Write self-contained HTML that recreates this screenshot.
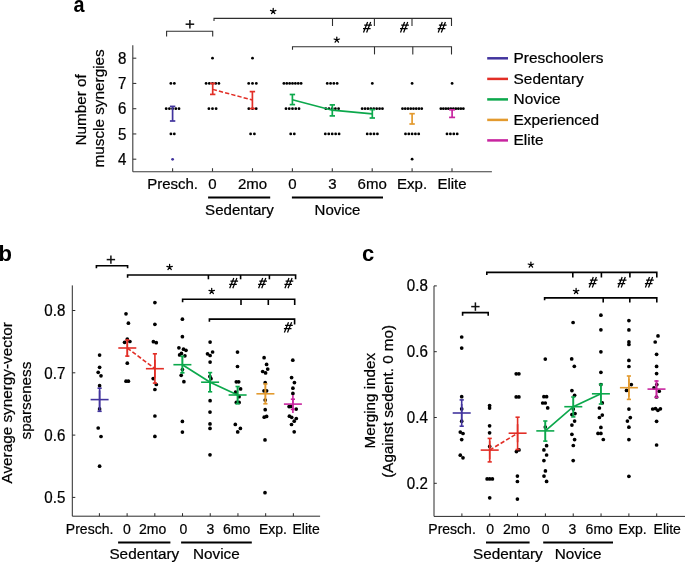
<!DOCTYPE html>
<html><head><meta charset="utf-8"><title>Figure</title>
<style>
html,body{margin:0;padding:0;background:#fff;}
body{width:685px;height:563px;overflow:hidden;}
svg{display:block;will-change:transform;}
text{font-family:"Liberation Sans", sans-serif;stroke:#000;stroke-width:0.22px;}
</style></head>
<body>
<svg width="685" height="563" viewBox="0 0 685 563" font-family='"Liberation Sans", sans-serif'>
<rect width="685" height="563" fill="#fff"/>
<text x="0" y="0" transform="translate(73.4,12.0) scale(0.9,1)" font-size="22" text-anchor="start" font-weight="bold" fill="#000" style="stroke:none">a</text>
<text x="-1.4" y="260.6" font-size="22" text-anchor="start" font-weight="bold" fill="#000" style="stroke:none">b</text>
<text x="362.0" y="260.6" font-size="22" text-anchor="start" font-weight="bold" fill="#000" style="stroke:none">c</text>
<line x1="132.8" y1="45.3" x2="132.8" y2="171.7" stroke="#3a3a3a" stroke-width="1.1" />
<line x1="132.8" y1="171.7" x2="491.9" y2="171.7" stroke="#3a3a3a" stroke-width="1.1" />
<line x1="132.8" y1="58.2" x2="136.3" y2="58.2" stroke="#3a3a3a" stroke-width="1.1" />
<text x="0" y="0" transform="translate(126.3,63.800000000000004) scale(0.97,1)" font-size="15.6" text-anchor="end" font-weight="normal" fill="#000" >8</text>
<line x1="132.8" y1="83.45" x2="136.3" y2="83.45" stroke="#3a3a3a" stroke-width="1.1" />
<text x="0" y="0" transform="translate(126.3,89.05) scale(0.97,1)" font-size="15.6" text-anchor="end" font-weight="normal" fill="#000" >7</text>
<line x1="132.8" y1="108.7" x2="136.3" y2="108.7" stroke="#3a3a3a" stroke-width="1.1" />
<text x="0" y="0" transform="translate(126.3,114.3) scale(0.97,1)" font-size="15.6" text-anchor="end" font-weight="normal" fill="#000" >6</text>
<line x1="132.8" y1="133.95" x2="136.3" y2="133.95" stroke="#3a3a3a" stroke-width="1.1" />
<text x="0" y="0" transform="translate(126.3,139.54999999999998) scale(0.97,1)" font-size="15.6" text-anchor="end" font-weight="normal" fill="#000" >5</text>
<line x1="132.8" y1="159.2" x2="136.3" y2="159.2" stroke="#3a3a3a" stroke-width="1.1" />
<text x="0" y="0" transform="translate(126.3,164.79999999999998) scale(0.97,1)" font-size="15.6" text-anchor="end" font-weight="normal" fill="#000" >4</text>
<line x1="172.6" y1="171.7" x2="172.6" y2="168.2" stroke="#3a3a3a" stroke-width="1.1" />
<line x1="212.5" y1="171.7" x2="212.5" y2="168.2" stroke="#3a3a3a" stroke-width="1.1" />
<line x1="252.5" y1="171.7" x2="252.5" y2="168.2" stroke="#3a3a3a" stroke-width="1.1" />
<line x1="292.4" y1="171.7" x2="292.4" y2="168.2" stroke="#3a3a3a" stroke-width="1.1" />
<line x1="332.3" y1="171.7" x2="332.3" y2="168.2" stroke="#3a3a3a" stroke-width="1.1" />
<line x1="372.2" y1="171.7" x2="372.2" y2="168.2" stroke="#3a3a3a" stroke-width="1.1" />
<line x1="412.1" y1="171.7" x2="412.1" y2="168.2" stroke="#3a3a3a" stroke-width="1.1" />
<line x1="452.0" y1="171.7" x2="452.0" y2="168.2" stroke="#3a3a3a" stroke-width="1.1" />
<text x="172.6" y="189.4" font-size="15" text-anchor="middle" font-weight="normal" fill="#000" >Presch.</text>
<text x="212.5" y="189.4" font-size="15" text-anchor="middle" font-weight="normal" fill="#000" >0</text>
<text x="252.5" y="189.4" font-size="15" text-anchor="middle" font-weight="normal" fill="#000" >2mo</text>
<text x="292.4" y="189.4" font-size="15" text-anchor="middle" font-weight="normal" fill="#000" >0</text>
<text x="332.3" y="189.4" font-size="15" text-anchor="middle" font-weight="normal" fill="#000" >3</text>
<text x="372.2" y="189.4" font-size="15" text-anchor="middle" font-weight="normal" fill="#000" >6mo</text>
<text x="412.1" y="189.4" font-size="15" text-anchor="middle" font-weight="normal" fill="#000" >Exp.</text>
<text x="452.0" y="189.4" font-size="15" text-anchor="middle" font-weight="normal" fill="#000" >Elite</text>
<line x1="208.1" y1="197.6" x2="270.2" y2="197.6" stroke="#000" stroke-width="2" />
<line x1="291.9" y1="197.6" x2="383.0" y2="197.6" stroke="#000" stroke-width="2" />
<text x="239.5" y="214.5" font-size="15.1" text-anchor="middle" font-weight="normal" fill="#000" >Sedentary</text>
<text x="337.5" y="214.5" font-size="15" text-anchor="middle" font-weight="normal" fill="#000" >Novice</text>
<text x="0" y="0" font-size="15.3" text-anchor="middle" font-weight="normal" fill="#000" transform="translate(85.6,109.9) rotate(-90)">Number of</text>
<text x="0" y="0" font-size="15.3" text-anchor="middle" font-weight="normal" fill="#000" transform="translate(104.2,108.4) rotate(-90)">muscle synergies</text>
<line x1="487.2" y1="58.3" x2="508.0" y2="58.3" stroke="#42349e" stroke-width="2.5" />
<text x="513.6" y="62.9" font-size="15.4" text-anchor="start" font-weight="normal" fill="#000" >Preschoolers</text>
<line x1="487.2" y1="78.9" x2="508.0" y2="78.9" stroke="#e22e26" stroke-width="2.5" />
<text x="513.6" y="83.5" font-size="15.4" text-anchor="start" font-weight="normal" fill="#000" >Sedentary</text>
<line x1="487.2" y1="99.4" x2="508.0" y2="99.4" stroke="#0ca84c" stroke-width="2.5" />
<text x="513.6" y="104.0" font-size="15.4" text-anchor="start" font-weight="normal" fill="#000" >Novice</text>
<line x1="487.2" y1="119.9" x2="508.0" y2="119.9" stroke="#e39a2e" stroke-width="2.5" />
<text x="513.6" y="124.5" font-size="15.4" text-anchor="start" font-weight="normal" fill="#000" >Experienced</text>
<line x1="487.2" y1="140.4" x2="508.0" y2="140.4" stroke="#c8249f" stroke-width="2.5" />
<text x="513.6" y="145.0" font-size="15.4" text-anchor="start" font-weight="normal" fill="#000" >Elite</text>
<polyline points="166.6,36.5 166.6,31.3 212.7,31.3 212.7,36.5" fill="none" stroke="#2e2e2e" stroke-width="1.1" />
<line x1="185.6" y1="24.2" x2="194.20000000000002" y2="24.2" stroke="#111" stroke-width="1.5" />
<line x1="189.9" y1="19.9" x2="189.9" y2="28.5" stroke="#111" stroke-width="1.5" />
<polyline points="214.0,21.0 214.0,18.4 451.5,18.4 451.5,26.0" fill="none" stroke="#2e2e2e" stroke-width="1.1" />
<line x1="332.5" y1="18.4" x2="332.5" y2="26.0" stroke="#2e2e2e" stroke-width="1.1" />
<line x1="374.4" y1="18.4" x2="374.4" y2="26.0" stroke="#2e2e2e" stroke-width="1.1" />
<line x1="412.0" y1="18.4" x2="412.0" y2="26.0" stroke="#2e2e2e" stroke-width="1.1" />
<path d="M273.20,11.30L273.20,8.45M273.20,11.30L275.91,10.42M273.20,11.30L274.88,13.61M273.20,11.30L271.52,13.61M273.20,11.30L270.49,10.42" stroke="#000" stroke-width="1.25" stroke-linecap="round" fill="none"/>
<path d="M367.60,22.10L363.50,32.40M370.70,22.10L366.60,32.40M364.20,25.20L371.90,25.20M363.00,28.60L370.60,28.60" stroke="#000" stroke-width="1.25" fill="none"/>
<path d="M404.60,22.10L400.50,32.40M407.70,22.10L403.60,32.40M401.20,25.20L408.90,25.20M400.00,28.60L407.60,28.60" stroke="#000" stroke-width="1.25" fill="none"/>
<path d="M442.30,22.10L438.20,32.40M445.40,22.10L441.30,32.40M438.90,25.20L446.60,25.20M437.70,28.60L445.30,28.60" stroke="#000" stroke-width="1.25" fill="none"/>
<polyline points="292.5,49.8 292.5,46.8 451.5,46.8 451.5,54.4" fill="none" stroke="#2e2e2e" stroke-width="1.1" />
<line x1="374.5" y1="46.8" x2="374.5" y2="54.4" stroke="#2e2e2e" stroke-width="1.1" />
<line x1="412.8" y1="46.8" x2="412.8" y2="54.4" stroke="#2e2e2e" stroke-width="1.1" />
<path d="M336.80,39.90L336.80,37.05M336.80,39.90L339.51,39.02M336.80,39.90L338.48,42.21M336.80,39.90L335.12,42.21M336.80,39.90L334.09,39.02" stroke="#000" stroke-width="1.25" stroke-linecap="round" fill="none"/>
<circle cx="170.85" cy="83.45" r="1.4" fill="#000"/>
<circle cx="174.35" cy="83.45" r="1.4" fill="#000"/>
<circle cx="166.2" cy="108.7" r="1.4" fill="#000"/>
<circle cx="169.4" cy="108.7" r="1.4" fill="#000"/>
<circle cx="172.6" cy="108.7" r="1.4" fill="#000"/>
<circle cx="175.8" cy="108.7" r="1.4" fill="#000"/>
<circle cx="179.0" cy="108.7" r="1.4" fill="#000"/>
<circle cx="170.9" cy="133.95" r="1.4" fill="#000"/>
<circle cx="174.3" cy="133.95" r="1.4" fill="#000"/>
<circle cx="212.5" cy="58.2" r="1.4" fill="#000"/>
<circle cx="206.1" cy="83.45" r="1.4" fill="#000"/>
<circle cx="209.3" cy="83.45" r="1.4" fill="#000"/>
<circle cx="212.5" cy="83.45" r="1.4" fill="#000"/>
<circle cx="215.7" cy="83.45" r="1.4" fill="#000"/>
<circle cx="218.9" cy="83.45" r="1.4" fill="#000"/>
<circle cx="208.9" cy="108.7" r="1.4" fill="#000"/>
<circle cx="212.5" cy="108.7" r="1.4" fill="#000"/>
<circle cx="216.1" cy="108.7" r="1.4" fill="#000"/>
<circle cx="252.5" cy="58.2" r="1.4" fill="#000"/>
<circle cx="248.7" cy="83.45" r="1.4" fill="#000"/>
<circle cx="252.5" cy="83.45" r="1.4" fill="#000"/>
<circle cx="256.3" cy="83.45" r="1.4" fill="#000"/>
<circle cx="248.8" cy="108.7" r="1.4" fill="#000"/>
<circle cx="252.5" cy="108.7" r="1.4" fill="#000"/>
<circle cx="256.2" cy="108.7" r="1.4" fill="#000"/>
<circle cx="250.6" cy="133.95" r="1.4" fill="#000"/>
<circle cx="254.4" cy="133.95" r="1.4" fill="#000"/>
<circle cx="283.89" cy="83.45" r="1.4" fill="#000"/>
<circle cx="286.76" cy="83.45" r="1.4" fill="#000"/>
<circle cx="289.63" cy="83.45" r="1.4" fill="#000"/>
<circle cx="292.5" cy="83.45" r="1.4" fill="#000"/>
<circle cx="295.37" cy="83.45" r="1.4" fill="#000"/>
<circle cx="298.24" cy="83.45" r="1.4" fill="#000"/>
<circle cx="301.11" cy="83.45" r="1.4" fill="#000"/>
<circle cx="286.0" cy="108.7" r="1.4" fill="#000"/>
<circle cx="289.25" cy="108.7" r="1.4" fill="#000"/>
<circle cx="292.5" cy="108.7" r="1.4" fill="#000"/>
<circle cx="295.75" cy="108.7" r="1.4" fill="#000"/>
<circle cx="299.0" cy="108.7" r="1.4" fill="#000"/>
<circle cx="290.7" cy="133.95" r="1.4" fill="#000"/>
<circle cx="294.3" cy="133.95" r="1.4" fill="#000"/>
<circle cx="327.25" cy="83.45" r="1.4" fill="#000"/>
<circle cx="330.55" cy="83.45" r="1.4" fill="#000"/>
<circle cx="333.85" cy="83.45" r="1.4" fill="#000"/>
<circle cx="337.15" cy="83.45" r="1.4" fill="#000"/>
<circle cx="325.8" cy="108.7" r="1.4" fill="#000"/>
<circle cx="329.0" cy="108.7" r="1.4" fill="#000"/>
<circle cx="332.2" cy="108.7" r="1.4" fill="#000"/>
<circle cx="335.4" cy="108.7" r="1.4" fill="#000"/>
<circle cx="338.6" cy="108.7" r="1.4" fill="#000"/>
<circle cx="325.3" cy="133.95" r="1.4" fill="#000"/>
<circle cx="328.75" cy="133.95" r="1.4" fill="#000"/>
<circle cx="332.2" cy="133.95" r="1.4" fill="#000"/>
<circle cx="335.65" cy="133.95" r="1.4" fill="#000"/>
<circle cx="339.1" cy="133.95" r="1.4" fill="#000"/>
<circle cx="372.3" cy="83.45" r="1.4" fill="#000"/>
<circle cx="362.15" cy="108.7" r="1.4" fill="#000"/>
<circle cx="365.05" cy="108.7" r="1.4" fill="#000"/>
<circle cx="367.95" cy="108.7" r="1.4" fill="#000"/>
<circle cx="370.85" cy="108.7" r="1.4" fill="#000"/>
<circle cx="373.75" cy="108.7" r="1.4" fill="#000"/>
<circle cx="376.65" cy="108.7" r="1.4" fill="#000"/>
<circle cx="379.55" cy="108.7" r="1.4" fill="#000"/>
<circle cx="382.45" cy="108.7" r="1.4" fill="#000"/>
<circle cx="367.2" cy="133.95" r="1.4" fill="#000"/>
<circle cx="370.6" cy="133.95" r="1.4" fill="#000"/>
<circle cx="374.0" cy="133.95" r="1.4" fill="#000"/>
<circle cx="377.4" cy="133.95" r="1.4" fill="#000"/>
<circle cx="412.1" cy="83.45" r="1.4" fill="#000"/>
<circle cx="402.48" cy="108.7" r="1.4" fill="#000"/>
<circle cx="405.23" cy="108.7" r="1.4" fill="#000"/>
<circle cx="407.98" cy="108.7" r="1.4" fill="#000"/>
<circle cx="410.73" cy="108.7" r="1.4" fill="#000"/>
<circle cx="413.48" cy="108.7" r="1.4" fill="#000"/>
<circle cx="416.23" cy="108.7" r="1.4" fill="#000"/>
<circle cx="418.98" cy="108.7" r="1.4" fill="#000"/>
<circle cx="421.73" cy="108.7" r="1.4" fill="#000"/>
<circle cx="405.5" cy="133.95" r="1.4" fill="#000"/>
<circle cx="408.8" cy="133.95" r="1.4" fill="#000"/>
<circle cx="412.1" cy="133.95" r="1.4" fill="#000"/>
<circle cx="415.4" cy="133.95" r="1.4" fill="#000"/>
<circle cx="418.7" cy="133.95" r="1.4" fill="#000"/>
<circle cx="412.1" cy="159.2" r="1.4" fill="#000"/>
<circle cx="452.1" cy="83.45" r="1.4" fill="#000"/>
<circle cx="440.85" cy="108.7" r="1.4" fill="#000"/>
<circle cx="443.35" cy="108.7" r="1.4" fill="#000"/>
<circle cx="445.85" cy="108.7" r="1.4" fill="#000"/>
<circle cx="448.35" cy="108.7" r="1.4" fill="#000"/>
<circle cx="450.85" cy="108.7" r="1.4" fill="#000"/>
<circle cx="453.35" cy="108.7" r="1.4" fill="#000"/>
<circle cx="455.85" cy="108.7" r="1.4" fill="#000"/>
<circle cx="458.35" cy="108.7" r="1.4" fill="#000"/>
<circle cx="460.85" cy="108.7" r="1.4" fill="#000"/>
<circle cx="463.35" cy="108.7" r="1.4" fill="#000"/>
<circle cx="447.0" cy="133.95" r="1.4" fill="#000"/>
<circle cx="450.4" cy="133.95" r="1.4" fill="#000"/>
<circle cx="453.8" cy="133.95" r="1.4" fill="#000"/>
<circle cx="457.2" cy="133.95" r="1.4" fill="#000"/>
<circle cx="172.6" cy="159.3" r="1.4" fill="#42349e"/>
<line x1="172.6" y1="106.4" x2="172.6" y2="121.0" stroke="#42349e" stroke-width="1.7" />
<line x1="169.9" y1="106.4" x2="175.29999999999998" y2="106.4" stroke="#42349e" stroke-width="1.7" />
<line x1="169.9" y1="121.0" x2="175.29999999999998" y2="121.0" stroke="#42349e" stroke-width="1.7" />
<line x1="212.7" y1="83.4" x2="212.7" y2="94.4" stroke="#e22e26" stroke-width="1.7" />
<line x1="210.0" y1="83.4" x2="215.39999999999998" y2="83.4" stroke="#e22e26" stroke-width="1.7" />
<line x1="210.0" y1="94.4" x2="215.39999999999998" y2="94.4" stroke="#e22e26" stroke-width="1.7" />
<line x1="252.4" y1="91.6" x2="252.4" y2="108.6" stroke="#e22e26" stroke-width="1.7" />
<line x1="249.70000000000002" y1="91.6" x2="255.1" y2="91.6" stroke="#e22e26" stroke-width="1.7" />
<line x1="249.70000000000002" y1="108.6" x2="255.1" y2="108.6" stroke="#e22e26" stroke-width="1.7" />
<line x1="212.7" y1="89.4" x2="252.4" y2="100.0" stroke="#e22e26" stroke-width="1.5" stroke-dasharray="4.3 2.1"/>
<line x1="292.4" y1="94.5" x2="292.4" y2="104.6" stroke="#0ca84c" stroke-width="1.7" />
<line x1="289.7" y1="94.5" x2="295.09999999999997" y2="94.5" stroke="#0ca84c" stroke-width="1.7" />
<line x1="289.7" y1="104.6" x2="295.09999999999997" y2="104.6" stroke="#0ca84c" stroke-width="1.7" />
<line x1="332.3" y1="104.9" x2="332.3" y2="115.9" stroke="#0ca84c" stroke-width="1.7" />
<line x1="329.6" y1="104.9" x2="335.0" y2="104.9" stroke="#0ca84c" stroke-width="1.7" />
<line x1="329.6" y1="115.9" x2="335.0" y2="115.9" stroke="#0ca84c" stroke-width="1.7" />
<line x1="372.3" y1="109.6" x2="372.3" y2="118.0" stroke="#0ca84c" stroke-width="1.7" />
<line x1="369.6" y1="109.6" x2="375.0" y2="109.6" stroke="#0ca84c" stroke-width="1.7" />
<line x1="369.6" y1="118.0" x2="375.0" y2="118.0" stroke="#0ca84c" stroke-width="1.7" />
<polyline points="292.4,99.8 332.3,110.2 372.3,113.9" fill="none" stroke="#0ca84c" stroke-width="1.7" />
<line x1="412.1" y1="113.7" x2="412.1" y2="124.0" stroke="#e39a2e" stroke-width="1.7" />
<line x1="409.40000000000003" y1="113.7" x2="414.8" y2="113.7" stroke="#e39a2e" stroke-width="1.7" />
<line x1="409.40000000000003" y1="124.0" x2="414.8" y2="124.0" stroke="#e39a2e" stroke-width="1.7" />
<line x1="452.1" y1="109.8" x2="452.1" y2="117.4" stroke="#c8249f" stroke-width="1.7" />
<line x1="449.1" y1="109.8" x2="455.1" y2="109.8" stroke="#c8249f" stroke-width="1.7" />
<line x1="449.1" y1="117.4" x2="455.1" y2="117.4" stroke="#c8249f" stroke-width="1.7" />
<line x1="72.3" y1="285.4" x2="72.3" y2="516.2" stroke="#2a2a2a" stroke-width="1.0" />
<line x1="72.3" y1="516.2" x2="320.1" y2="516.2" stroke="#2a2a2a" stroke-width="1.0" />
<line x1="72.3" y1="310.5" x2="75.3" y2="310.5" stroke="#2a2a2a" stroke-width="1.0" />
<text x="0" y="0" transform="translate(65.4,316.3) scale(0.97,1)" font-size="15.6" text-anchor="end" font-weight="normal" fill="#000" >0.8</text>
<line x1="72.3" y1="372.8" x2="75.3" y2="372.8" stroke="#2a2a2a" stroke-width="1.0" />
<text x="0" y="0" transform="translate(65.4,378.6) scale(0.97,1)" font-size="15.6" text-anchor="end" font-weight="normal" fill="#000" >0.7</text>
<line x1="72.3" y1="435.1" x2="75.3" y2="435.1" stroke="#2a2a2a" stroke-width="1.0" />
<text x="0" y="0" transform="translate(65.4,440.90000000000003) scale(0.97,1)" font-size="15.6" text-anchor="end" font-weight="normal" fill="#000" >0.6</text>
<line x1="72.3" y1="497.4" x2="75.3" y2="497.4" stroke="#2a2a2a" stroke-width="1.0" />
<text x="0" y="0" transform="translate(65.4,503.2) scale(0.97,1)" font-size="15.6" text-anchor="end" font-weight="normal" fill="#000" >0.5</text>
<line x1="99.4" y1="516.2" x2="99.4" y2="513.2" stroke="#2a2a2a" stroke-width="1.0" />
<line x1="127.11000000000001" y1="516.2" x2="127.11000000000001" y2="513.2" stroke="#2a2a2a" stroke-width="1.0" />
<line x1="154.82" y1="516.2" x2="154.82" y2="513.2" stroke="#2a2a2a" stroke-width="1.0" />
<line x1="182.53" y1="516.2" x2="182.53" y2="513.2" stroke="#2a2a2a" stroke-width="1.0" />
<line x1="210.24" y1="516.2" x2="210.24" y2="513.2" stroke="#2a2a2a" stroke-width="1.0" />
<line x1="237.95000000000002" y1="516.2" x2="237.95000000000002" y2="513.2" stroke="#2a2a2a" stroke-width="1.0" />
<line x1="265.65999999999997" y1="516.2" x2="265.65999999999997" y2="513.2" stroke="#2a2a2a" stroke-width="1.0" />
<line x1="293.37" y1="516.2" x2="293.37" y2="513.2" stroke="#2a2a2a" stroke-width="1.0" />
<text x="0" y="0" transform="translate(89.6,534.2) scale(0.935,1)" font-size="15" text-anchor="middle" font-weight="normal" fill="#000" >Presch.</text>
<text x="0" y="0" transform="translate(126.9,534.2) scale(0.935,1)" font-size="15" text-anchor="middle" font-weight="normal" fill="#000" >0</text>
<text x="0" y="0" transform="translate(152.7,534.2) scale(0.935,1)" font-size="15" text-anchor="middle" font-weight="normal" fill="#000" >2mo</text>
<text x="0" y="0" transform="translate(183.4,534.2) scale(0.935,1)" font-size="15" text-anchor="middle" font-weight="normal" fill="#000" >0</text>
<text x="0" y="0" transform="translate(210.3,534.2) scale(0.935,1)" font-size="15" text-anchor="middle" font-weight="normal" fill="#000" >3</text>
<text x="0" y="0" transform="translate(236.6,534.2) scale(0.935,1)" font-size="15" text-anchor="middle" font-weight="normal" fill="#000" >6mo</text>
<text x="0" y="0" transform="translate(272.9,534.2) scale(0.935,1)" font-size="15" text-anchor="middle" font-weight="normal" fill="#000" >Exp.</text>
<text x="0" y="0" transform="translate(306.1,534.2) scale(0.935,1)" font-size="15" text-anchor="middle" font-weight="normal" fill="#000" >Elite</text>
<line x1="118.1" y1="542.5" x2="170.4" y2="542.5" stroke="#000" stroke-width="2" />
<line x1="181.1" y1="542.5" x2="251.8" y2="542.5" stroke="#000" stroke-width="2" />
<text x="144.3" y="558.7" font-size="15.3" text-anchor="middle" font-weight="normal" fill="#000" >Sedentary</text>
<text x="216.4" y="558.7" font-size="15.3" text-anchor="middle" font-weight="normal" fill="#000" >Novice</text>
<text x="0" y="0" font-size="15.3" text-anchor="middle" font-weight="normal" fill="#000" transform="translate(11.6,402.9) rotate(-90)">Average synergy-vector</text>
<text x="0" y="0" font-size="15.2" text-anchor="middle" font-weight="normal" fill="#000" transform="translate(30.8,400.6) rotate(-90)">sparseness</text>
<polyline points="96.4,268.3 96.4,265.7 127.6,265.7 127.6,268.3" fill="none" stroke="#000" stroke-width="1.6" />
<line x1="106.7" y1="259.6" x2="115.10000000000001" y2="259.6" stroke="#111" stroke-width="1.5" />
<line x1="110.9" y1="255.40000000000003" x2="110.9" y2="263.8" stroke="#111" stroke-width="1.5" />
<polyline points="127.6,277.8 127.6,275.0 295.6,275.0 295.6,279.3" fill="none" stroke="#000" stroke-width="1.6" />
<line x1="208.4" y1="275.0" x2="208.4" y2="279.3" stroke="#000" stroke-width="1.6" />
<line x1="240.6" y1="275.0" x2="240.6" y2="279.3" stroke="#000" stroke-width="1.6" />
<line x1="269.4" y1="275.0" x2="269.4" y2="279.3" stroke="#000" stroke-width="1.6" />
<path d="M169.60,267.20L169.60,264.35M169.60,267.20L172.31,266.32M169.60,267.20L171.28,269.51M169.60,267.20L167.92,269.51M169.60,267.20L166.89,266.32" stroke="#000" stroke-width="1.25" stroke-linecap="round" fill="none"/>
<path d="M233.80,277.90L229.70,288.20M236.90,277.90L232.80,288.20M230.40,281.00L238.10,281.00M229.20,284.40L236.80,284.40" stroke="#000" stroke-width="1.25" fill="none"/>
<path d="M262.70,277.90L258.60,288.20M265.80,277.90L261.70,288.20M259.30,281.00L267.00,281.00M258.10,284.40L265.70,284.40" stroke="#000" stroke-width="1.25" fill="none"/>
<path d="M289.00,277.90L284.90,288.20M292.10,277.90L288.00,288.20M285.60,281.00L293.30,281.00M284.40,284.40L292.00,284.40" stroke="#000" stroke-width="1.25" fill="none"/>
<polyline points="182.6,302.3 182.6,299.3 294.7,299.3 294.7,305.0" fill="none" stroke="#000" stroke-width="1.6" />
<line x1="241.0" y1="299.3" x2="241.0" y2="305.0" stroke="#000" stroke-width="1.6" />
<line x1="268.3" y1="299.3" x2="268.3" y2="305.0" stroke="#000" stroke-width="1.6" />
<path d="M211.70,291.20L211.70,288.35M211.70,291.20L214.41,290.32M211.70,291.20L213.38,293.51M211.70,291.20L210.02,293.51M211.70,291.20L208.99,290.32" stroke="#000" stroke-width="1.25" stroke-linecap="round" fill="none"/>
<polyline points="209.4,321.8 209.4,319.1 294.6,319.1 294.6,324.4" fill="none" stroke="#000" stroke-width="1.6" />
<path d="M288.50,322.20L284.40,332.50M291.60,322.20L287.50,332.50M285.10,325.30L292.80,325.30M283.90,328.70L291.50,328.70" stroke="#000" stroke-width="1.25" fill="none"/>
<circle cx="99.6" cy="355.1" r="1.85" fill="#000"/>
<circle cx="99.6" cy="367.3" r="1.85" fill="#000"/>
<circle cx="98.2" cy="372.3" r="1.85" fill="#000"/>
<circle cx="101" cy="375.8" r="1.85" fill="#000"/>
<circle cx="99.6" cy="385.7" r="1.85" fill="#000"/>
<circle cx="99.6" cy="408.9" r="1.85" fill="#000"/>
<circle cx="98.2" cy="428" r="1.85" fill="#000"/>
<circle cx="101" cy="436.5" r="1.85" fill="#000"/>
<circle cx="99.6" cy="466.2" r="1.85" fill="#000"/>
<circle cx="126" cy="313.8" r="1.85" fill="#000"/>
<circle cx="128.4" cy="323.2" r="1.85" fill="#000"/>
<circle cx="127.3" cy="339.1" r="1.85" fill="#000"/>
<circle cx="124.6" cy="342.3" r="1.85" fill="#000"/>
<circle cx="129.9" cy="341.5" r="1.85" fill="#000"/>
<circle cx="127.3" cy="363.2" r="1.85" fill="#000"/>
<circle cx="126" cy="381.2" r="1.85" fill="#000"/>
<circle cx="128.4" cy="381.2" r="1.85" fill="#000"/>
<circle cx="154.9" cy="302.6" r="1.85" fill="#000"/>
<circle cx="154.9" cy="324.3" r="1.85" fill="#000"/>
<circle cx="153.4" cy="341.7" r="1.85" fill="#000"/>
<circle cx="156.3" cy="342.7" r="1.85" fill="#000"/>
<circle cx="153.2" cy="378.6" r="1.85" fill="#000"/>
<circle cx="156.3" cy="384.5" r="1.85" fill="#000"/>
<circle cx="154.9" cy="389.5" r="1.85" fill="#000"/>
<circle cx="154.9" cy="416" r="1.85" fill="#000"/>
<circle cx="154.9" cy="436.4" r="1.85" fill="#000"/>
<circle cx="182.4" cy="319.2" r="1.85" fill="#000"/>
<circle cx="182.4" cy="336.7" r="1.85" fill="#000"/>
<circle cx="178.9" cy="347.8" r="1.85" fill="#000"/>
<circle cx="183.5" cy="349.2" r="1.85" fill="#000"/>
<circle cx="186" cy="350.3" r="1.85" fill="#000"/>
<circle cx="181.4" cy="353.4" r="1.85" fill="#000"/>
<circle cx="179.6" cy="354.9" r="1.85" fill="#000"/>
<circle cx="184.9" cy="355.8" r="1.85" fill="#000"/>
<circle cx="182.4" cy="369.5" r="1.85" fill="#000"/>
<circle cx="181.2" cy="375.3" r="1.85" fill="#000"/>
<circle cx="183.9" cy="381.7" r="1.85" fill="#000"/>
<circle cx="182.4" cy="421.4" r="1.85" fill="#000"/>
<circle cx="182.4" cy="432.1" r="1.85" fill="#000"/>
<circle cx="210.1" cy="342.1" r="1.85" fill="#000"/>
<circle cx="212.6" cy="352" r="1.85" fill="#000"/>
<circle cx="207.5" cy="353.8" r="1.85" fill="#000"/>
<circle cx="210.1" cy="355.5" r="1.85" fill="#000"/>
<circle cx="210.1" cy="362.1" r="1.85" fill="#000"/>
<circle cx="209.9" cy="376.4" r="1.85" fill="#000"/>
<circle cx="211" cy="378.7" r="1.85" fill="#000"/>
<circle cx="210.1" cy="400.7" r="1.85" fill="#000"/>
<circle cx="210" cy="412.1" r="1.85" fill="#000"/>
<circle cx="210" cy="423.9" r="1.85" fill="#000"/>
<circle cx="210" cy="428.4" r="1.85" fill="#000"/>
<circle cx="210" cy="454.8" r="1.85" fill="#000"/>
<circle cx="237.5" cy="352.1" r="1.85" fill="#000"/>
<circle cx="237.5" cy="366.5" r="1.85" fill="#000"/>
<circle cx="236.3" cy="381.8" r="1.85" fill="#000"/>
<circle cx="238.7" cy="381.8" r="1.85" fill="#000"/>
<circle cx="240.6" cy="388.9" r="1.85" fill="#000"/>
<circle cx="235.6" cy="392.2" r="1.85" fill="#000"/>
<circle cx="239.1" cy="396.7" r="1.85" fill="#000"/>
<circle cx="236.3" cy="402.4" r="1.85" fill="#000"/>
<circle cx="239.1" cy="402.4" r="1.85" fill="#000"/>
<circle cx="235.3" cy="424.4" r="1.85" fill="#000"/>
<circle cx="240.4" cy="428.4" r="1.85" fill="#000"/>
<circle cx="237.7" cy="431.9" r="1.85" fill="#000"/>
<circle cx="264.1" cy="357.7" r="1.85" fill="#000"/>
<circle cx="266.6" cy="364.4" r="1.85" fill="#000"/>
<circle cx="267.7" cy="369.1" r="1.85" fill="#000"/>
<circle cx="262.7" cy="371.5" r="1.85" fill="#000"/>
<circle cx="265.6" cy="372.9" r="1.85" fill="#000"/>
<circle cx="265.2" cy="382.7" r="1.85" fill="#000"/>
<circle cx="264" cy="390.8" r="1.85" fill="#000"/>
<circle cx="266.6" cy="390.8" r="1.85" fill="#000"/>
<circle cx="265.2" cy="400" r="1.85" fill="#000"/>
<circle cx="265.2" cy="409.7" r="1.85" fill="#000"/>
<circle cx="264.2" cy="417.2" r="1.85" fill="#000"/>
<circle cx="266.6" cy="416.4" r="1.85" fill="#000"/>
<circle cx="265" cy="439.9" r="1.85" fill="#000"/>
<circle cx="265" cy="492.7" r="1.85" fill="#000"/>
<circle cx="292.8" cy="360.2" r="1.85" fill="#000"/>
<circle cx="291.6" cy="377.6" r="1.85" fill="#000"/>
<circle cx="294.4" cy="382.6" r="1.85" fill="#000"/>
<circle cx="292.9" cy="388.2" r="1.85" fill="#000"/>
<circle cx="292.9" cy="393.4" r="1.85" fill="#000"/>
<circle cx="289.1" cy="406.6" r="1.85" fill="#000"/>
<circle cx="290.9" cy="406.5" r="1.85" fill="#000"/>
<circle cx="296.2" cy="409.1" r="1.85" fill="#000"/>
<circle cx="289.4" cy="416.2" r="1.85" fill="#000"/>
<circle cx="291.7" cy="417.3" r="1.85" fill="#000"/>
<circle cx="296.3" cy="418.5" r="1.85" fill="#000"/>
<circle cx="294.2" cy="421.2" r="1.85" fill="#000"/>
<circle cx="291.5" cy="424.5" r="1.85" fill="#000"/>
<circle cx="294.2" cy="431.8" r="1.85" fill="#000"/>
<line x1="99.6" y1="388.2" x2="99.6" y2="411.3" stroke="#42349e" stroke-width="1.6" />
<line x1="97.5" y1="388.2" x2="101.69999999999999" y2="388.2" stroke="#42349e" stroke-width="1.6" />
<line x1="97.5" y1="411.3" x2="101.69999999999999" y2="411.3" stroke="#42349e" stroke-width="1.6" />
<line x1="90.6" y1="399.6" x2="108.6" y2="399.6" stroke="#42349e" stroke-width="1.6" />
<line x1="99.6" y1="390.6" x2="99.6" y2="408.6" stroke="#42349e" stroke-width="1.6" />
<line x1="127.3" y1="340.1" x2="127.3" y2="356.1" stroke="#e22e26" stroke-width="1.6" />
<line x1="125.2" y1="340.1" x2="129.4" y2="340.1" stroke="#e22e26" stroke-width="1.6" />
<line x1="125.2" y1="356.1" x2="129.4" y2="356.1" stroke="#e22e26" stroke-width="1.6" />
<line x1="118.3" y1="348.0" x2="136.3" y2="348.0" stroke="#e22e26" stroke-width="1.6" />
<line x1="127.3" y1="339.0" x2="127.3" y2="357.0" stroke="#e22e26" stroke-width="1.6" />
<line x1="154.9" y1="353.8" x2="154.9" y2="383.1" stroke="#e22e26" stroke-width="1.6" />
<line x1="152.8" y1="353.8" x2="157.0" y2="353.8" stroke="#e22e26" stroke-width="1.6" />
<line x1="152.8" y1="383.1" x2="157.0" y2="383.1" stroke="#e22e26" stroke-width="1.6" />
<line x1="145.9" y1="368.7" x2="163.9" y2="368.7" stroke="#e22e26" stroke-width="1.6" />
<line x1="154.9" y1="359.7" x2="154.9" y2="377.7" stroke="#e22e26" stroke-width="1.6" />
<line x1="127.3" y1="348.0" x2="154.9" y2="368.7" stroke="#e22e26" stroke-width="1.6" stroke-dasharray="4.3 2.1"/>
<line x1="182.4" y1="356.3" x2="182.4" y2="372.8" stroke="#0ca84c" stroke-width="1.6" />
<line x1="180.3" y1="356.3" x2="184.5" y2="356.3" stroke="#0ca84c" stroke-width="1.6" />
<line x1="180.3" y1="372.8" x2="184.5" y2="372.8" stroke="#0ca84c" stroke-width="1.6" />
<line x1="173.4" y1="364.7" x2="191.4" y2="364.7" stroke="#0ca84c" stroke-width="1.6" />
<line x1="182.4" y1="355.7" x2="182.4" y2="373.7" stroke="#0ca84c" stroke-width="1.6" />
<line x1="210.1" y1="372.6" x2="210.1" y2="391.8" stroke="#0ca84c" stroke-width="1.6" />
<line x1="208.0" y1="372.6" x2="212.2" y2="372.6" stroke="#0ca84c" stroke-width="1.6" />
<line x1="208.0" y1="391.8" x2="212.2" y2="391.8" stroke="#0ca84c" stroke-width="1.6" />
<line x1="201.1" y1="382.2" x2="219.1" y2="382.2" stroke="#0ca84c" stroke-width="1.6" />
<line x1="210.1" y1="373.2" x2="210.1" y2="391.2" stroke="#0ca84c" stroke-width="1.6" />
<line x1="237.6" y1="386.5" x2="237.6" y2="403.8" stroke="#0ca84c" stroke-width="1.6" />
<line x1="235.5" y1="386.5" x2="239.7" y2="386.5" stroke="#0ca84c" stroke-width="1.6" />
<line x1="235.5" y1="403.8" x2="239.7" y2="403.8" stroke="#0ca84c" stroke-width="1.6" />
<line x1="228.6" y1="395.0" x2="246.6" y2="395.0" stroke="#0ca84c" stroke-width="1.6" />
<line x1="237.6" y1="386.0" x2="237.6" y2="404.0" stroke="#0ca84c" stroke-width="1.6" />
<polyline points="182.4,364.7 210.1,382.2 237.6,395.0" fill="none" stroke="#0ca84c" stroke-width="1.7" />
<line x1="265.4" y1="383.9" x2="265.4" y2="403.8" stroke="#e39a2e" stroke-width="1.6" />
<line x1="263.29999999999995" y1="383.9" x2="267.5" y2="383.9" stroke="#e39a2e" stroke-width="1.6" />
<line x1="263.29999999999995" y1="403.8" x2="267.5" y2="403.8" stroke="#e39a2e" stroke-width="1.6" />
<line x1="256.4" y1="393.8" x2="274.4" y2="393.8" stroke="#e39a2e" stroke-width="1.6" />
<line x1="265.4" y1="384.8" x2="265.4" y2="402.8" stroke="#e39a2e" stroke-width="1.6" />
<line x1="292.9" y1="399.2" x2="292.9" y2="409.4" stroke="#c8249f" stroke-width="1.6" />
<line x1="290.79999999999995" y1="399.2" x2="295.0" y2="399.2" stroke="#c8249f" stroke-width="1.6" />
<line x1="290.79999999999995" y1="409.4" x2="295.0" y2="409.4" stroke="#c8249f" stroke-width="1.6" />
<line x1="283.9" y1="404.1" x2="301.9" y2="404.1" stroke="#c8249f" stroke-width="1.6" />
<line x1="292.9" y1="395.1" x2="292.9" y2="413.1" stroke="#c8249f" stroke-width="1.6" />
<line x1="434.0" y1="285.9" x2="434.0" y2="516.4" stroke="#2a2a2a" stroke-width="1.0" />
<line x1="434.0" y1="516.4" x2="685" y2="516.4" stroke="#2a2a2a" stroke-width="1.0" />
<line x1="434.0" y1="285.9" x2="436.8" y2="285.9" stroke="#2a2a2a" stroke-width="1.0" />
<text x="0" y="0" transform="translate(427.9,291.09999999999997) scale(0.97,1)" font-size="15.6" text-anchor="end" font-weight="normal" fill="#000" >0.8</text>
<line x1="434.0" y1="351.7" x2="436.8" y2="351.7" stroke="#2a2a2a" stroke-width="1.0" />
<text x="0" y="0" transform="translate(427.9,356.9) scale(0.97,1)" font-size="15.6" text-anchor="end" font-weight="normal" fill="#000" >0.6</text>
<line x1="434.0" y1="417.5" x2="436.8" y2="417.5" stroke="#2a2a2a" stroke-width="1.0" />
<text x="0" y="0" transform="translate(427.9,422.7) scale(0.97,1)" font-size="15.6" text-anchor="end" font-weight="normal" fill="#000" >0.4</text>
<line x1="434.0" y1="483.3" x2="436.8" y2="483.3" stroke="#2a2a2a" stroke-width="1.0" />
<text x="0" y="0" transform="translate(427.9,488.5) scale(0.97,1)" font-size="15.6" text-anchor="end" font-weight="normal" fill="#000" >0.2</text>
<line x1="461.9" y1="516.4" x2="461.9" y2="513.4" stroke="#2a2a2a" stroke-width="1.0" />
<line x1="489.72999999999996" y1="516.4" x2="489.72999999999996" y2="513.4" stroke="#2a2a2a" stroke-width="1.0" />
<line x1="517.56" y1="516.4" x2="517.56" y2="513.4" stroke="#2a2a2a" stroke-width="1.0" />
<line x1="545.39" y1="516.4" x2="545.39" y2="513.4" stroke="#2a2a2a" stroke-width="1.0" />
<line x1="573.22" y1="516.4" x2="573.22" y2="513.4" stroke="#2a2a2a" stroke-width="1.0" />
<line x1="601.05" y1="516.4" x2="601.05" y2="513.4" stroke="#2a2a2a" stroke-width="1.0" />
<line x1="628.88" y1="516.4" x2="628.88" y2="513.4" stroke="#2a2a2a" stroke-width="1.0" />
<line x1="656.71" y1="516.4" x2="656.71" y2="513.4" stroke="#2a2a2a" stroke-width="1.0" />
<text x="0" y="0" transform="translate(452.05,534.1) scale(0.935,1)" font-size="15" text-anchor="middle" font-weight="normal" fill="#000" >Presch.</text>
<text x="0" y="0" transform="translate(490.05,534.1) scale(0.935,1)" font-size="15" text-anchor="middle" font-weight="normal" fill="#000" >0</text>
<text x="0" y="0" transform="translate(516.55,534.1) scale(0.935,1)" font-size="15" text-anchor="middle" font-weight="normal" fill="#000" >2mo</text>
<text x="0" y="0" transform="translate(545.6,534.1) scale(0.935,1)" font-size="15" text-anchor="middle" font-weight="normal" fill="#000" >0</text>
<text x="0" y="0" transform="translate(572.3,534.1) scale(0.935,1)" font-size="15" text-anchor="middle" font-weight="normal" fill="#000" >3</text>
<text x="0" y="0" transform="translate(599.25,534.1) scale(0.935,1)" font-size="15" text-anchor="middle" font-weight="normal" fill="#000" >6mo</text>
<text x="0" y="0" transform="translate(632.6,534.1) scale(0.935,1)" font-size="15" text-anchor="middle" font-weight="normal" fill="#000" >Exp.</text>
<text x="0" y="0" transform="translate(667.2,534.1) scale(0.935,1)" font-size="15" text-anchor="middle" font-weight="normal" fill="#000" >Elite</text>
<line x1="486.0" y1="542.6" x2="529.6" y2="542.6" stroke="#000" stroke-width="2" />
<line x1="543.2" y1="542.6" x2="613.0" y2="542.6" stroke="#000" stroke-width="2" />
<text x="507.9" y="558.8" font-size="15.3" text-anchor="middle" font-weight="normal" fill="#000" >Sedentary</text>
<text x="578.1" y="558.8" font-size="15.3" text-anchor="middle" font-weight="normal" fill="#000" >Novice</text>
<text x="0" y="0" font-size="15.2" text-anchor="middle" font-weight="normal" fill="#000" transform="translate(374.6,400.7) rotate(-90)">Merging index</text>
<text x="0" y="0" font-size="15.2" text-anchor="middle" font-weight="normal" fill="#000" transform="translate(393.3,401.4) rotate(-90)">(Against sedent. 0 mo)</text>
<polyline points="462.6,315.7 462.6,312.6 488.2,312.6 488.2,315.7" fill="none" stroke="#000" stroke-width="1.6" />
<line x1="471.2" y1="306.6" x2="479.59999999999997" y2="306.6" stroke="#111" stroke-width="1.5" />
<line x1="475.4" y1="302.40000000000003" x2="475.4" y2="310.8" stroke="#111" stroke-width="1.5" />
<polyline points="486.8,275.0 486.8,272.4 656.8,272.4 656.8,277.5" fill="none" stroke="#000" stroke-width="1.6" />
<line x1="572.8" y1="272.4" x2="572.8" y2="277.5" stroke="#000" stroke-width="1.6" />
<line x1="601.4" y1="272.4" x2="601.4" y2="277.5" stroke="#000" stroke-width="1.6" />
<line x1="629.9" y1="272.4" x2="629.9" y2="277.5" stroke="#000" stroke-width="1.6" />
<path d="M530.90,264.90L530.90,262.05M530.90,264.90L533.61,264.02M530.90,264.90L532.58,267.21M530.90,264.90L529.22,267.21M530.90,264.90L528.19,264.02" stroke="#000" stroke-width="1.25" stroke-linecap="round" fill="none"/>
<path d="M593.30,277.10L589.20,287.40M596.40,277.10L592.30,287.40M589.90,280.20L597.60,280.20M588.70,283.60L596.30,283.60" stroke="#000" stroke-width="1.25" fill="none"/>
<path d="M622.20,277.10L618.10,287.40M625.30,277.10L621.20,287.40M618.80,280.20L626.50,280.20M617.60,283.60L625.20,283.60" stroke="#000" stroke-width="1.25" fill="none"/>
<path d="M649.50,277.10L645.40,287.40M652.60,277.10L648.50,287.40M646.10,280.20L653.80,280.20M644.90,283.60L652.50,283.60" stroke="#000" stroke-width="1.25" fill="none"/>
<polyline points="544.6,300.3 544.6,297.9 656.8,297.9 656.8,302.4" fill="none" stroke="#000" stroke-width="1.6" />
<line x1="603.2" y1="297.9" x2="603.2" y2="302.4" stroke="#000" stroke-width="1.6" />
<line x1="629.8" y1="297.9" x2="629.8" y2="302.4" stroke="#000" stroke-width="1.6" />
<path d="M576.10,291.30L576.10,288.45M576.10,291.30L578.81,290.42M576.10,291.30L577.78,293.61M576.10,291.30L574.42,293.61M576.10,291.30L573.39,290.42" stroke="#000" stroke-width="1.25" stroke-linecap="round" fill="none"/>
<circle cx="461.7" cy="337" r="1.85" fill="#000"/>
<circle cx="461.7" cy="348.1" r="1.85" fill="#000"/>
<circle cx="461.7" cy="396.7" r="1.85" fill="#000"/>
<circle cx="461.7" cy="408.9" r="1.85" fill="#000"/>
<circle cx="461.7" cy="421.2" r="1.85" fill="#000"/>
<circle cx="460.3" cy="432.1" r="1.85" fill="#000"/>
<circle cx="463" cy="433.5" r="1.85" fill="#000"/>
<circle cx="461.7" cy="439.6" r="1.85" fill="#000"/>
<circle cx="460.3" cy="455.2" r="1.85" fill="#000"/>
<circle cx="463" cy="457.8" r="1.85" fill="#000"/>
<circle cx="489.6" cy="405.5" r="1.85" fill="#000"/>
<circle cx="489.6" cy="408.1" r="1.85" fill="#000"/>
<circle cx="489.6" cy="425.8" r="1.85" fill="#000"/>
<circle cx="489.6" cy="432.8" r="1.85" fill="#000"/>
<circle cx="489.7" cy="446.4" r="1.85" fill="#000"/>
<circle cx="487.1" cy="478.9" r="1.85" fill="#000"/>
<circle cx="489.7" cy="478.9" r="1.85" fill="#000"/>
<circle cx="492.4" cy="478.9" r="1.85" fill="#000"/>
<circle cx="489.7" cy="497.8" r="1.85" fill="#000"/>
<circle cx="516.2" cy="373.8" r="1.85" fill="#000"/>
<circle cx="518.9" cy="373.8" r="1.85" fill="#000"/>
<circle cx="516.2" cy="396.9" r="1.85" fill="#000"/>
<circle cx="518.9" cy="396.9" r="1.85" fill="#000"/>
<circle cx="519" cy="449.9" r="1.85" fill="#000"/>
<circle cx="516.4" cy="451.6" r="1.85" fill="#000"/>
<circle cx="517.4" cy="476.1" r="1.85" fill="#000"/>
<circle cx="517.4" cy="481.5" r="1.85" fill="#000"/>
<circle cx="517.4" cy="499.1" r="1.85" fill="#000"/>
<circle cx="545.3" cy="359.1" r="1.85" fill="#000"/>
<circle cx="543.9" cy="396.7" r="1.85" fill="#000"/>
<circle cx="546.6" cy="396.7" r="1.85" fill="#000"/>
<circle cx="542.7" cy="403" r="1.85" fill="#000"/>
<circle cx="545.3" cy="403" r="1.85" fill="#000"/>
<circle cx="547.7" cy="407.9" r="1.85" fill="#000"/>
<circle cx="545.3" cy="427" r="1.85" fill="#000"/>
<circle cx="546.6" cy="445.7" r="1.85" fill="#000"/>
<circle cx="543.9" cy="449.9" r="1.85" fill="#000"/>
<circle cx="546.6" cy="455" r="1.85" fill="#000"/>
<circle cx="543.9" cy="460.6" r="1.85" fill="#000"/>
<circle cx="545.4" cy="470.9" r="1.85" fill="#000"/>
<circle cx="544" cy="476.1" r="1.85" fill="#000"/>
<circle cx="546.6" cy="481.4" r="1.85" fill="#000"/>
<circle cx="573.1" cy="322.5" r="1.85" fill="#000"/>
<circle cx="571.7" cy="358.9" r="1.85" fill="#000"/>
<circle cx="574.3" cy="366.3" r="1.85" fill="#000"/>
<circle cx="571.9" cy="390.6" r="1.85" fill="#000"/>
<circle cx="574.6" cy="395.3" r="1.85" fill="#000"/>
<circle cx="573.3" cy="409.1" r="1.85" fill="#000"/>
<circle cx="571.9" cy="414.5" r="1.85" fill="#000"/>
<circle cx="575" cy="413.6" r="1.85" fill="#000"/>
<circle cx="574.6" cy="421.1" r="1.85" fill="#000"/>
<circle cx="571.9" cy="425.1" r="1.85" fill="#000"/>
<circle cx="571.9" cy="434.3" r="1.85" fill="#000"/>
<circle cx="574.6" cy="439.6" r="1.85" fill="#000"/>
<circle cx="573.3" cy="445.5" r="1.85" fill="#000"/>
<circle cx="573.2" cy="460.6" r="1.85" fill="#000"/>
<circle cx="600.9" cy="315.2" r="1.85" fill="#000"/>
<circle cx="600.9" cy="329.8" r="1.85" fill="#000"/>
<circle cx="600.9" cy="351.8" r="1.85" fill="#000"/>
<circle cx="600.9" cy="372.3" r="1.85" fill="#000"/>
<circle cx="600.9" cy="384.6" r="1.85" fill="#000"/>
<circle cx="602.3" cy="402.9" r="1.85" fill="#000"/>
<circle cx="599.4" cy="408" r="1.85" fill="#000"/>
<circle cx="602.3" cy="415.1" r="1.85" fill="#000"/>
<circle cx="599.4" cy="417.5" r="1.85" fill="#000"/>
<circle cx="600.9" cy="427.4" r="1.85" fill="#000"/>
<circle cx="598" cy="433.4" r="1.85" fill="#000"/>
<circle cx="600.9" cy="433.4" r="1.85" fill="#000"/>
<circle cx="603.3" cy="439.5" r="1.85" fill="#000"/>
<circle cx="628.9" cy="320.6" r="1.85" fill="#000"/>
<circle cx="628.9" cy="329.9" r="1.85" fill="#000"/>
<circle cx="628.9" cy="341.9" r="1.85" fill="#000"/>
<circle cx="628.9" cy="344.5" r="1.85" fill="#000"/>
<circle cx="628.9" cy="360.4" r="1.85" fill="#000"/>
<circle cx="628.9" cy="366.5" r="1.85" fill="#000"/>
<circle cx="631.3" cy="384.6" r="1.85" fill="#000"/>
<circle cx="626.5" cy="390.4" r="1.85" fill="#000"/>
<circle cx="628.9" cy="409.1" r="1.85" fill="#000"/>
<circle cx="630.3" cy="417.6" r="1.85" fill="#000"/>
<circle cx="627.4" cy="421.1" r="1.85" fill="#000"/>
<circle cx="628.9" cy="427.2" r="1.85" fill="#000"/>
<circle cx="628.9" cy="439.6" r="1.85" fill="#000"/>
<circle cx="628.9" cy="476.3" r="1.85" fill="#000"/>
<circle cx="658" cy="335.9" r="1.85" fill="#000"/>
<circle cx="655.2" cy="342" r="1.85" fill="#000"/>
<circle cx="656.6" cy="354.3" r="1.85" fill="#000"/>
<circle cx="656.6" cy="366.4" r="1.85" fill="#000"/>
<circle cx="656.6" cy="373.6" r="1.85" fill="#000"/>
<circle cx="656.8" cy="384.6" r="1.85" fill="#000"/>
<circle cx="654" cy="387.9" r="1.85" fill="#000"/>
<circle cx="659.2" cy="391.2" r="1.85" fill="#000"/>
<circle cx="656.5" cy="397" r="1.85" fill="#000"/>
<circle cx="652.7" cy="409" r="1.85" fill="#000"/>
<circle cx="655.5" cy="408.6" r="1.85" fill="#000"/>
<circle cx="657.9" cy="410.3" r="1.85" fill="#000"/>
<circle cx="660.4" cy="408.8" r="1.85" fill="#000"/>
<circle cx="656.6" cy="421.3" r="1.85" fill="#000"/>
<circle cx="656.6" cy="445" r="1.85" fill="#000"/>
<line x1="461.7" y1="399.9" x2="461.7" y2="426.2" stroke="#42349e" stroke-width="1.6" />
<line x1="459.59999999999997" y1="399.9" x2="463.8" y2="399.9" stroke="#42349e" stroke-width="1.6" />
<line x1="459.59999999999997" y1="426.2" x2="463.8" y2="426.2" stroke="#42349e" stroke-width="1.6" />
<line x1="452.7" y1="413.0" x2="470.7" y2="413.0" stroke="#42349e" stroke-width="1.6" />
<line x1="461.7" y1="404.0" x2="461.7" y2="422.0" stroke="#42349e" stroke-width="1.6" />
<line x1="489.7" y1="438.4" x2="489.7" y2="461.9" stroke="#e22e26" stroke-width="1.6" />
<line x1="487.59999999999997" y1="438.4" x2="491.8" y2="438.4" stroke="#e22e26" stroke-width="1.6" />
<line x1="487.59999999999997" y1="461.9" x2="491.8" y2="461.9" stroke="#e22e26" stroke-width="1.6" />
<line x1="480.7" y1="450.1" x2="498.7" y2="450.1" stroke="#e22e26" stroke-width="1.6" />
<line x1="489.7" y1="441.1" x2="489.7" y2="459.1" stroke="#e22e26" stroke-width="1.6" />
<line x1="517.6" y1="417.2" x2="517.6" y2="449.5" stroke="#e22e26" stroke-width="1.6" />
<line x1="515.5" y1="417.2" x2="519.7" y2="417.2" stroke="#e22e26" stroke-width="1.6" />
<line x1="515.5" y1="449.5" x2="519.7" y2="449.5" stroke="#e22e26" stroke-width="1.6" />
<line x1="508.6" y1="433.2" x2="526.6" y2="433.2" stroke="#e22e26" stroke-width="1.6" />
<line x1="517.6" y1="424.2" x2="517.6" y2="442.2" stroke="#e22e26" stroke-width="1.6" />
<line x1="489.7" y1="450.1" x2="517.6" y2="433.2" stroke="#e22e26" stroke-width="1.6" stroke-dasharray="4.3 2.1"/>
<line x1="545.3" y1="421.0" x2="545.3" y2="441.1" stroke="#0ca84c" stroke-width="1.6" />
<line x1="543.1999999999999" y1="421.0" x2="547.4" y2="421.0" stroke="#0ca84c" stroke-width="1.6" />
<line x1="543.1999999999999" y1="441.1" x2="547.4" y2="441.1" stroke="#0ca84c" stroke-width="1.6" />
<line x1="536.3" y1="430.9" x2="554.3" y2="430.9" stroke="#0ca84c" stroke-width="1.6" />
<line x1="545.3" y1="421.9" x2="545.3" y2="439.9" stroke="#0ca84c" stroke-width="1.6" />
<line x1="573.3" y1="397.0" x2="573.3" y2="416.9" stroke="#0ca84c" stroke-width="1.6" />
<line x1="571.1999999999999" y1="397.0" x2="575.4" y2="397.0" stroke="#0ca84c" stroke-width="1.6" />
<line x1="571.1999999999999" y1="416.9" x2="575.4" y2="416.9" stroke="#0ca84c" stroke-width="1.6" />
<line x1="564.3" y1="406.7" x2="582.3" y2="406.7" stroke="#0ca84c" stroke-width="1.6" />
<line x1="573.3" y1="397.7" x2="573.3" y2="415.7" stroke="#0ca84c" stroke-width="1.6" />
<line x1="600.9" y1="384.2" x2="600.9" y2="404.0" stroke="#0ca84c" stroke-width="1.6" />
<line x1="598.8" y1="384.2" x2="603.0" y2="384.2" stroke="#0ca84c" stroke-width="1.6" />
<line x1="598.8" y1="404.0" x2="603.0" y2="404.0" stroke="#0ca84c" stroke-width="1.6" />
<line x1="591.9" y1="393.8" x2="609.9" y2="393.8" stroke="#0ca84c" stroke-width="1.6" />
<line x1="600.9" y1="384.8" x2="600.9" y2="402.8" stroke="#0ca84c" stroke-width="1.6" />
<polyline points="545.3,430.9 573.3,406.7 600.9,393.8" fill="none" stroke="#0ca84c" stroke-width="1.7" />
<line x1="628.9" y1="376.0" x2="628.9" y2="399.4" stroke="#e39a2e" stroke-width="1.6" />
<line x1="626.8" y1="376.0" x2="631.0" y2="376.0" stroke="#e39a2e" stroke-width="1.6" />
<line x1="626.8" y1="399.4" x2="631.0" y2="399.4" stroke="#e39a2e" stroke-width="1.6" />
<line x1="619.9" y1="387.7" x2="637.9" y2="387.7" stroke="#e39a2e" stroke-width="1.6" />
<line x1="628.9" y1="378.7" x2="628.9" y2="396.7" stroke="#e39a2e" stroke-width="1.6" />
<line x1="656.5" y1="381.0" x2="656.5" y2="397.4" stroke="#c8249f" stroke-width="1.6" />
<line x1="654.4" y1="381.0" x2="658.6" y2="381.0" stroke="#c8249f" stroke-width="1.6" />
<line x1="654.4" y1="397.4" x2="658.6" y2="397.4" stroke="#c8249f" stroke-width="1.6" />
<line x1="647.5" y1="389.1" x2="665.5" y2="389.1" stroke="#c8249f" stroke-width="1.6" />
<line x1="656.5" y1="380.1" x2="656.5" y2="398.1" stroke="#c8249f" stroke-width="1.6" />
</svg>
</body></html>
